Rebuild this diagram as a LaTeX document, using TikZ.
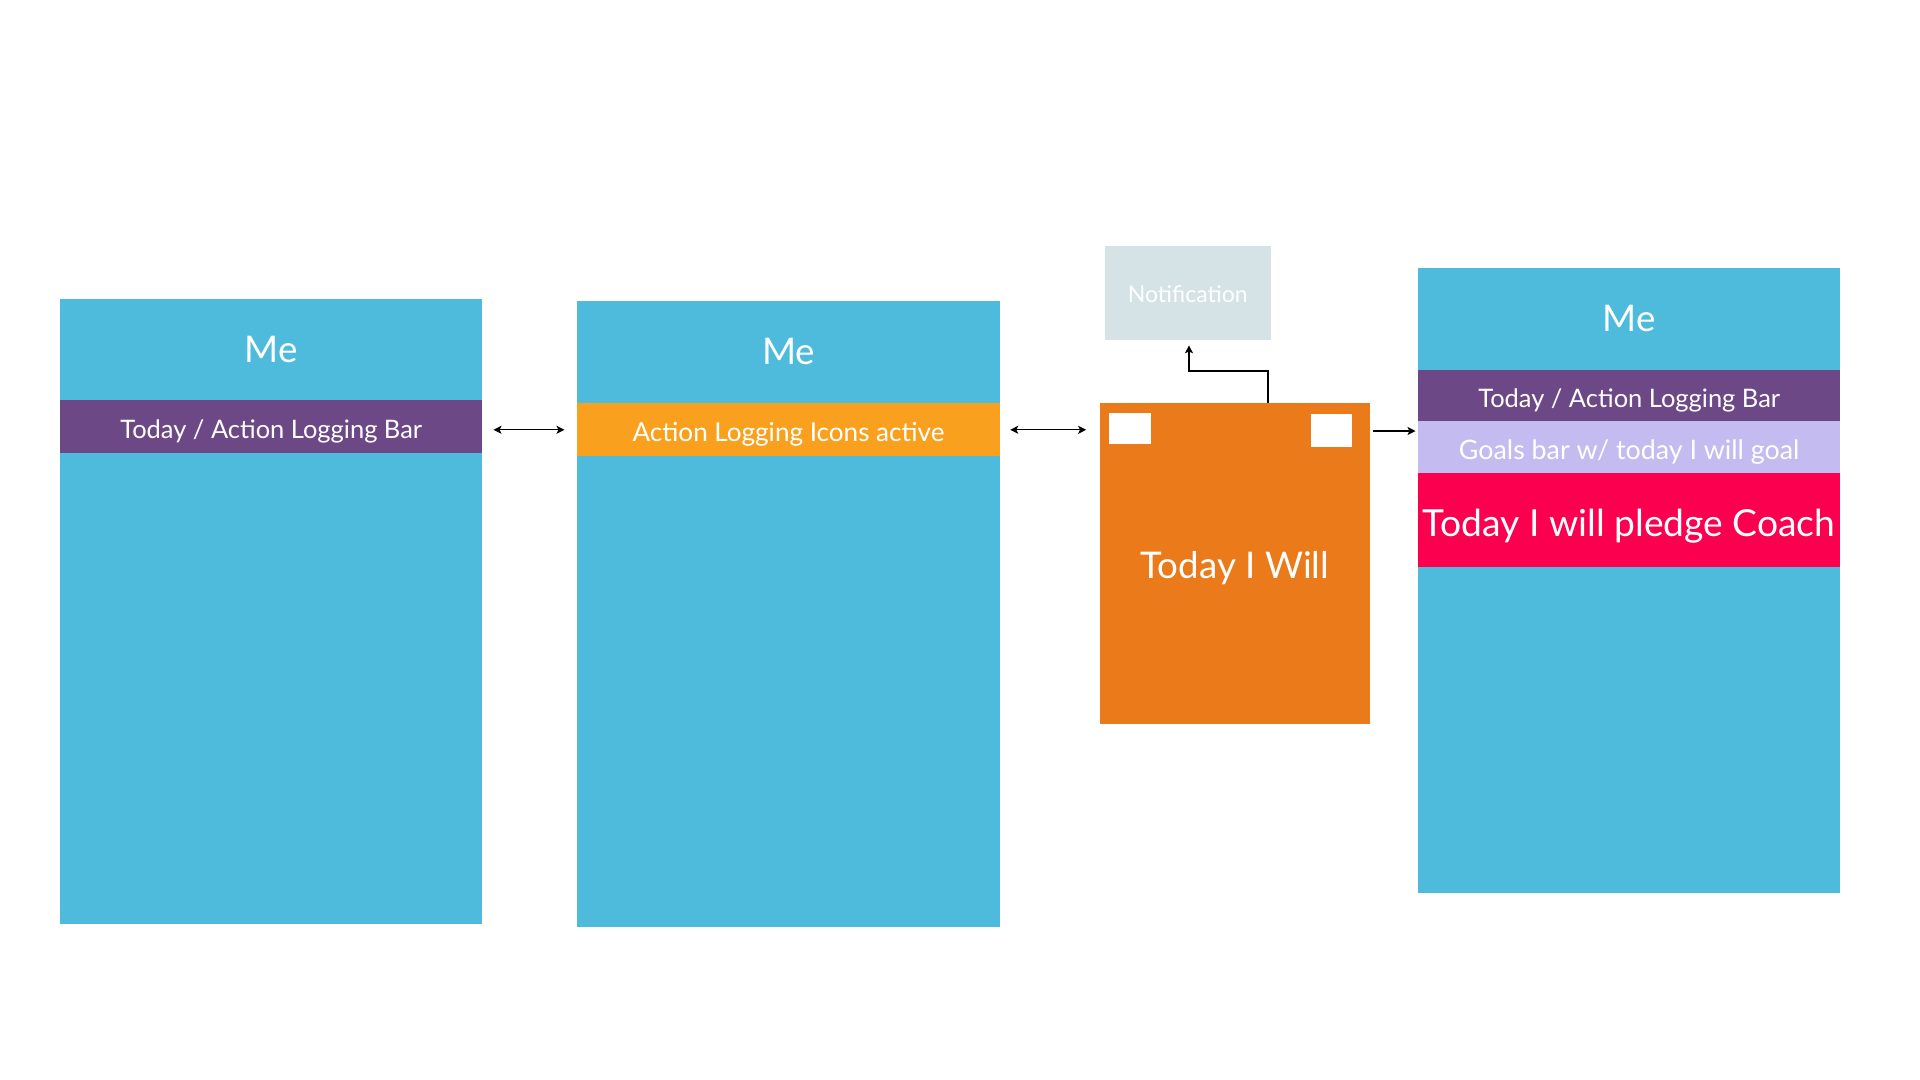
\documentclass[tikz,border=0pt]{standalone}
\usepackage{fontspec}
\setmainfont{Lato}
\usetikzlibrary{arrows.meta,calc}
\definecolor{scrblue}{HTML}{4EBBDC}
\definecolor{barpurple}{HTML}{6D4886}
\definecolor{barorange}{HTML}{F9A11F}
\definecolor{boxorange}{HTML}{EA7A1A}
\definecolor{barlav}{HTML}{C4BBF1}
\definecolor{barpink}{HTML}{FA004E}
\definecolor{notegray}{HTML}{D5E2E6}
\newcommand\lowered[2]{\raisebox{-#1}[\height][\depth]{#2}}
\tikzset{
  panel/.style={rectangle, draw=none, inner sep=0pt, outer sep=0pt, anchor=north west, text=white},
  metext/.style={text=white, font=\fontsize{30}{34}\selectfont, inner sep=0pt},
  bartext/.style={font=\fontsize{#1}{24}\selectfont},
  conn/.style={line width=1.1pt, black},
  tip/.style={-{Stealth[length=6.5pt,width=6.5pt,inset=1.5pt]}},
  dtip/.style={{Stealth[length=6.5pt,width=6.5pt,inset=1.5pt]}-{Stealth[length=6.5pt,width=6.5pt,inset=1.5pt]}}
}
\begin{document}
\begin{tikzpicture}[x=1pt,y=-1pt]
\useasboundingbox[fill=white] (0,0) rectangle (1568,882);
% screen 1
\node[panel, fill=scrblue, minimum width=345pt, minimum height=511pt] (s1) at (49,244) {};
\node[metext] (s1me) at (221.5,285) {Me};
\node[panel, fill=barpurple, minimum width=345pt, minimum height=43pt, bartext=20.8] (s1bar) at (49,327) {\lowered{4pt}{Today / Action Logging Bar}};
% screen 2
\node[panel, fill=scrblue, minimum width=346pt, minimum height=511pt] (s2) at (471,246) {};
\node[metext] (s2me) at (644,287) {Me};
\node[panel, fill=barorange, minimum width=346pt, minimum height=43pt, bartext=21.3] (s2bar) at (471,329) {\lowered{4pt}{Action Logging Icons active}};
% today I will card
\node[panel, fill=boxorange, minimum width=221pt, minimum height=262pt, font=\fontsize{30}{34}\selectfont] (tw) at (898,329) {\lowered{4pt}{Today I Will}};
\node[panel, fill=white, minimum width=34pt, minimum height=26pt] (sqa) at (906,337) {};
\node[panel, fill=white, minimum width=33pt, minimum height=27pt] (sqb) at (1071,338) {};
% notification
\node[panel, fill=notegray, minimum width=136pt, minimum height=77pt, font=\fontsize{18.8}{22}\selectfont] (note) at (902,201) {\lowered{1pt}{Notification}};
% screen 4
\node[panel, fill=scrblue, minimum width=345pt, minimum height=510pt] (s4) at (1158,219) {};
\node[metext] (s4me) at (1330.5,260) {Me};
\node[panel, fill=barpurple, minimum width=345pt, minimum height=42pt, bartext=20.8] (s4bar) at (1158,302) {\lowered{4pt}{Today / Action Logging Bar}};
\node[panel, fill=barlav, minimum width=345pt, minimum height=42pt, bartext=21.9] (s4goal) at (1158,344) {\lowered{4pt}{Goals bar w/ today I will goal}};
\node[panel, fill=barpink, minimum width=345pt, minimum height=77pt, font=\fontsize{30.4}{34}\selectfont] (s4pink) at (1158,386) {\lowered{5pt}{Today I will pledge Coach}};
% connectors
\coordinate (a1s) at ($(s1bar.east)+(9,2.5)$);
\coordinate (a1e) at ($(s2bar.west)+(-10,0.5)$);
\draw[conn,dtip] (a1s) -- (a1e);
\coordinate (a2s) at ($(s2bar.east)+(8,0.5)$);
\coordinate (a2e) at ($(tw.west |- s2bar.east)+(-11,0.5)$);
\draw[conn,dtip] (a2s) -- (a2e);
\coordinate (a3s) at ($(tw.north east)+(2,23)$);
\coordinate (a3e) at ($(s4.west |- a3s)+(-2,0)$);
\draw[conn,tip] (a3s) -- (a3e);
\coordinate (a4s) at ($(tw.north)+(27,0)$);
\coordinate (a4e) at ($(note.south)+(1,4)$);
\draw[conn,tip] (a4s) -- ++(0,-26) -| (a4e);
\end{tikzpicture}
\end{document}
